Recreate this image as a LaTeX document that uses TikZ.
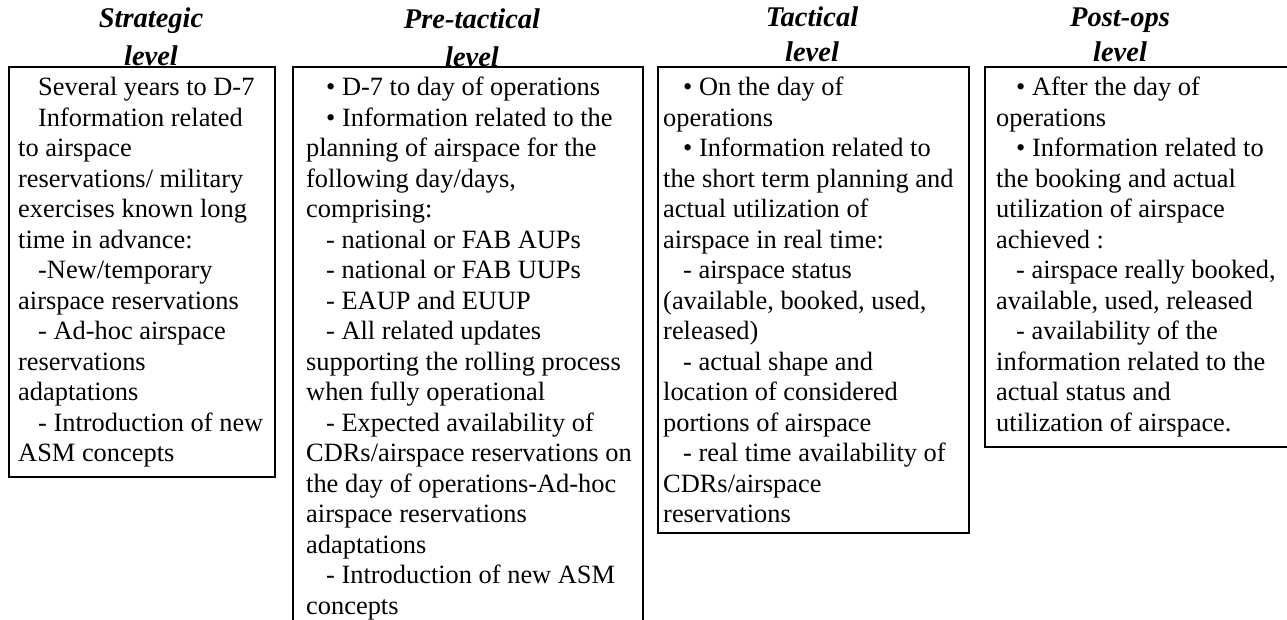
\documentclass[tikz,border=0pt]{standalone}
\usepackage{fontspec}
\setmainfont{Liberation Serif}
\usetikzlibrary{positioning}
\newcommand{\lvind}{\hspace*{20pt}}

\begin{document}
\begin{tikzpicture}[x=1pt,y=-1pt,
  levelbox/.style={anchor=north west,align=left,inner ysep=10pt,
    font=\fontsize{26.4}{30.5}\selectfont},
  levelframe/.style={draw,line width=1.3pt},
  levelhead/.style={anchor=base,align=center,
    font=\fontsize{28.5}{37}\selectfont\bfseries\itshape}]
%
  \clip (0,0) rectangle (1287,620);
%
  \node[levelhead] (hstrat) at (151,66) {Strategic\\[1pt]level};
  \node[levelhead] (hpre) at (472,67) {Pre-tactical\\[1pt]level};
  \node[levelhead] (htact) at (812,62) {Tactical\\[-2pt]level};
  \node[levelhead] (hpost) at (1120,62) {Post-ops\\[-2pt]level};
%
  \node[levelbox,inner xsep=9pt] (strat) at (9,67) {%
    \lvind Several years to D-7\\
    \lvind Information related\\
    to airspace\\
    reservations/ military\\
    exercises known long\\
    time in advance:\\
    \lvind -New/temporary\\
    airspace reservations\\
    \lvind - Ad-hoc airspace\\
    reservations\\
    adaptations\\
    \lvind - Introduction of new\\
    ASM concepts};
  \draw[levelframe] (strat.north west) rectangle ++(266,410);
%
  \node[levelbox,inner xsep=13pt] (pretact) at (293,67) {%
    \lvind • D-7 to day of operations\\
    \lvind • Information related to the\\
    planning of airspace for the\\
    following day/days,\\
    comprising:\\
    \lvind - national or FAB AUPs\\
    \lvind - national or FAB UUPs\\
    \lvind - EAUP and EUUP\\
    \lvind - All related updates\\
    supporting the rolling process\\
    when fully operational\\
    \lvind - Expected availability of\\
    CDRs/airspace reservations on\\
    the day of operations-Ad-hoc\\
    airspace reservations\\
    adaptations\\
    \lvind - Introduction of new ASM\\
    concepts};
  \draw[levelframe] (pretact.north west) rectangle ++(350,580);
%
  \node[levelbox,inner xsep=5pt] (tact) at (658,67) {%
    \lvind • On the day of\\
    operations\\
    \lvind • Information related to\\
    the short term planning and\\
    actual utilization of\\
    airspace in real time:\\
    \lvind - airspace status\\
    (available, booked, used,\\
    released)\\
    \lvind - actual shape and\\
    location of considered\\
    portions of airspace\\
    \lvind - real time availability of\\
    CDRs/airspace\\
    reservations};
  \draw[levelframe] (tact.north west) rectangle ++(311,466);
%
  \node[levelbox,inner xsep=11pt] (postops) at (985,67) {%
    \lvind • After the day of\\
    operations\\
    \lvind • Information related to\\
    the booking and actual\\
    utilization of airspace\\
    achieved :\\
    \lvind - airspace really booked,\\
    available, used, released\\
    \lvind - availability of the\\
    information related to the\\
    actual status and\\
    utilization of airspace.};
  \draw[levelframe] (postops.north west) rectangle ++(320,380);
%
\end{tikzpicture}
\end{document}
